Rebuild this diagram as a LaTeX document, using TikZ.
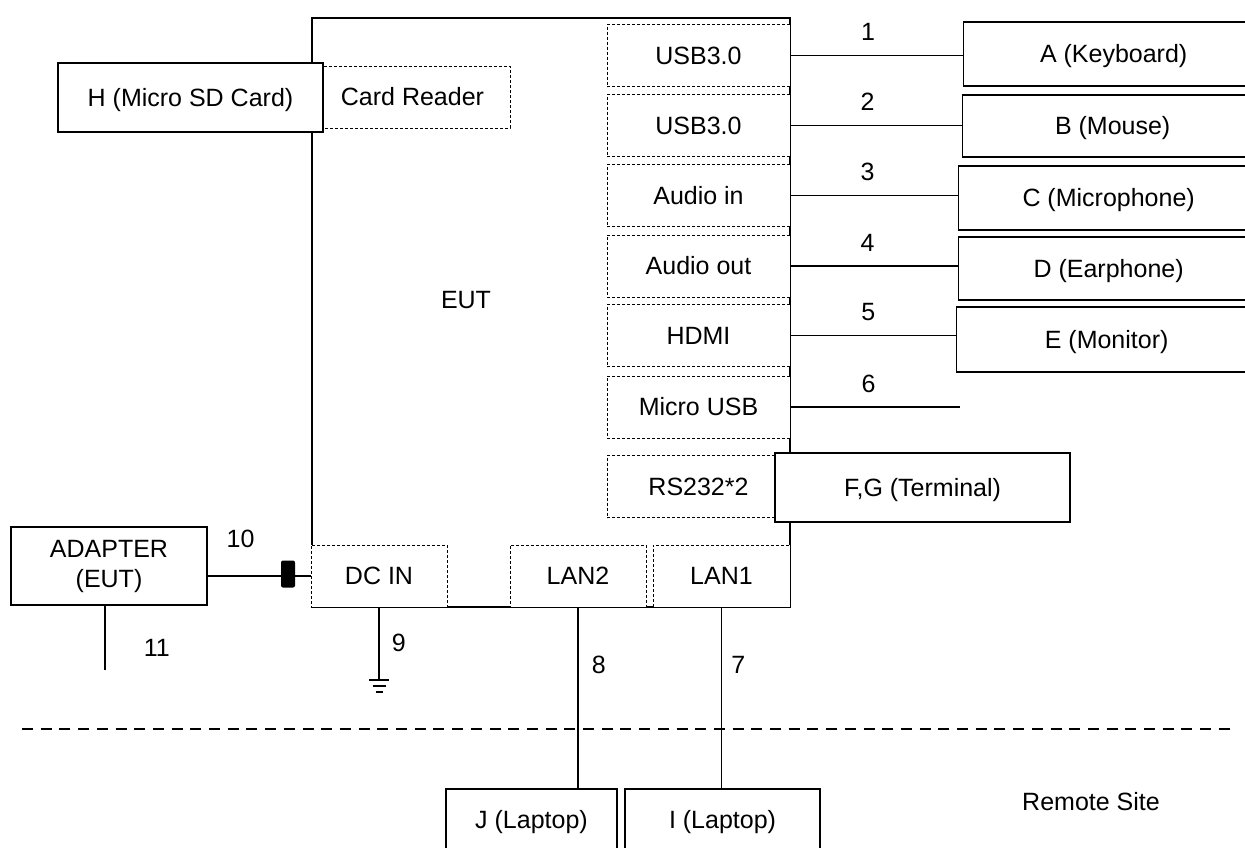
\documentclass[tikz,border=0pt]{standalone}
\usepackage{fontspec}
\setmainfont{Liberation Sans}
\newcommand{\diagfont}{\fontsize{25}{30}\selectfont}
\newcommand{\offpage}[1]{\makebox[370pt][l]{\makebox[300pt]{#1}}}
\usetikzlibrary{calc}

\begin{document}
\begin{tikzpicture}[
  x=1pt, y=-1pt,
  every node/.style={font=\diagfont},
  frame/.style={draw, line width=1.3pt, inner sep=0pt},
  port/.style={
    draw, fill=white, line width=0.9pt, dash pattern=on 3pt off 2pt,
    inner sep=0pt, minimum height=62pt
  },
  devbox/.style={draw, fill=white, line width=1.3pt, inner sep=0pt, align=center},
  dev/.style={devbox, text height=17.5pt, text depth=0pt},
  rdev/.style={dev, anchor=west},
  cable/.style={line width=1.5pt},
  lbl/.style={inner sep=0pt},
  sep/.style={line width=1.5pt, dash pattern=on 11pt off 7.7pt}
]
  \useasboundingbox (0,0) rectangle (1245,847);
  \clip (0,0) rectangle (1245,847);

  % EUT frame
  \node[frame, minimum width=478pt, minimum height=589pt] (eut) at (551,312.5) {};
  \node (eutlbl) at (466,300) {EUT};

  % ports
  \node[port, minimum width=183pt] (usb1) at (698.5,55.5) {USB3.0};
  \node[port, minimum width=183pt] (usb2) at (698.5,125.5) {USB3.0};
  \node[port, minimum width=183pt] (ain) at (698.5,195.5) {Audio in};
  \node[port, minimum width=183pt] (aout) at (698.5,266) {Audio out};
  \node[port, minimum width=183pt] (hdmi) at (698.5,335.5) {HDMI};
  \node[port, minimum width=183pt] (musb) at (698.5,407) {Micro USB};
  \node[port, minimum width=183pt] (rs) at (698.5,486.5) {RS232*2};
  \node[port, minimum width=195pt] (card) at (412.5,97) {Card Reader};
  \node[port, minimum width=136pt] (dcin) at (379,576) {DC IN};
  \node[port, minimum width=136pt] (lan2) at (578,576) {LAN2};
  \node[port, minimum width=137pt] (lan1) at (721.5,576) {LAN1};

  % devices (the right ones run off the page)
  \node[rdev, minimum height=64pt] (kbd) at (963,54) {\offpage{A (Keyboard)}};
  \node[rdev, minimum height=62pt] (mouse) at (962,126) {\offpage{B (Mouse)}};
  \node[rdev, minimum height=64pt] (mic) at (958,198) {\offpage{C (Microphone)}};
  \node[rdev, minimum height=63pt] (ear) at (958,268.5) {\offpage{D (Earphone)}};
  \node[rdev, minimum height=65pt] (mon) at (956,339.5) {\offpage{E (Monitor)}};
  \node[dev, minimum width=295pt, minimum height=69pt] (term) at (922.5,487.5) {F,G (Terminal)};
  \node[dev, minimum width=265pt, minimum height=69pt] (sdcard) at (190.5,97.5) {H (Micro SD Card)};
  \node[devbox, minimum width=196pt, minimum height=78pt] (adapter) at (109,566) {ADAPTER\\(EUT)};
  \node[dev, minimum width=171pt, minimum height=61pt] (lapj) at (531.5,819.5) {J (Laptop)};
  \node[dev, minimum width=195pt, minimum height=61pt] (lapi) at (722.5,819.5) {I (Laptop)};

  % cables
  \draw[cable] (usb1.east) -- (usb1.east -| kbd.west) node[lbl, pos=0.45, above=14pt] {1};
  \draw[cable] (usb2.east) -- (usb2.east -| mouse.west) node[lbl, pos=0.45, above=14pt] {2};
  \draw[cable] (ain.east) -- (ain.east -| mic.west) node[lbl, pos=0.46, above=14pt] {3};
  \draw[cable] (aout.east) -- (aout.east -| ear.west) node[lbl, pos=0.46, above=14pt] {4};
  \draw[cable] (hdmi.east) -- (hdmi.east -| mon.west) node[lbl, pos=0.47, above=14pt] {5};
  \coordinate (m6end) at (960,407);
  \draw[cable] (musb.east) -- (m6end) node[lbl, pos=0.46, above=14pt] {6};
  \draw[cable] (lan1.south) -- (lan1.south |- lapi.north) node[lbl, pos=0.32, right=9pt] {7};
  \draw[cable] (lan2.south) -- (lan2.south |- lapj.north) node[lbl, pos=0.32, right=13pt] {8};

  % ground
  \coordinate (gnd) at (379,680);
  \draw[cable] (dcin.south) -- (gnd) node[lbl, pos=0.49, right=12pt] {9};
  \draw[cable] ($(gnd)+(-10,0)$) -- ($(gnd)+(10,0)$);
  \draw[cable] ($(gnd)+(-6.5,6)$) -- ($(gnd)+(6.5,6)$);
  \draw[cable] ($(gnd)+(-3.5,12)$) -- ($(gnd)+(3.5,12)$);

  % power
  \draw[cable] (dcin.west -| adapter.east) -- (dcin.west) node[lbl, pos=0.32, above=28pt] {10};
  \node[fill=black, rounded corners=2pt, inner sep=0pt, minimum width=14pt, minimum height=27pt] (ferrite) at (288,574) {};
  \coordinate (a11) at (105,670);
  \draw[cable] (a11 |- adapter.south) -- (a11) node[lbl, pos=0.65, right=38pt] {11};

  % remote site
  \coordinate (sepL) at (22,729);
  \coordinate (sepR) at (1230,729);
  \draw[sep] (sepL) -- (sepR);
  \node (remote) at (1091,802) {Remote Site};
\end{tikzpicture}
\end{document}
